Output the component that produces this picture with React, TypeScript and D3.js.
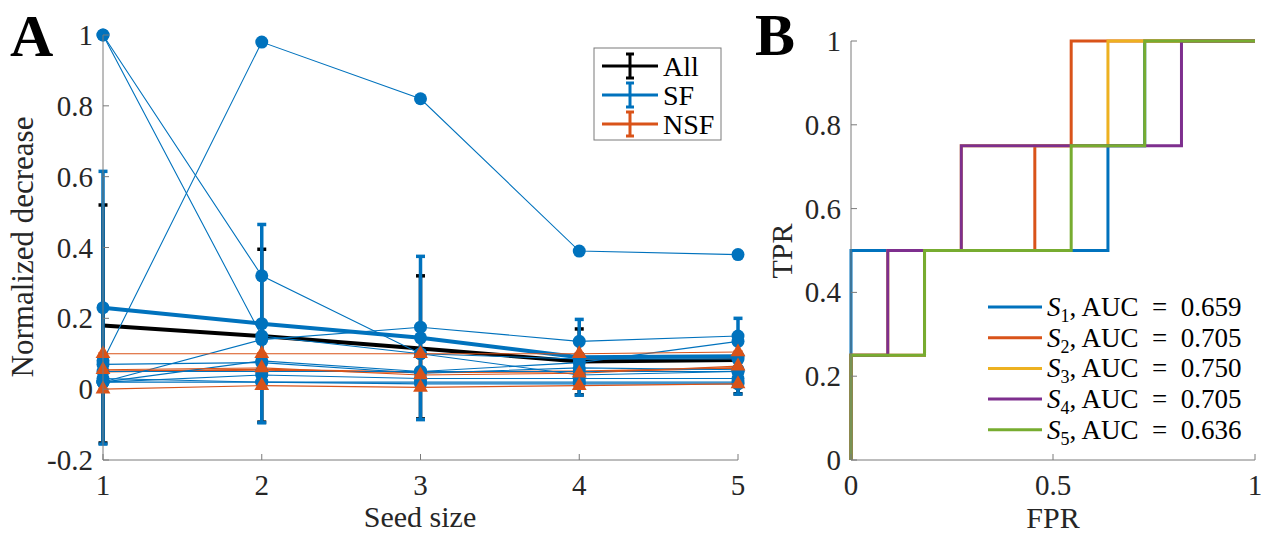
import * as d3 from 'd3'

const SEED_SIZES = [1, 2, 3, 4, 5]

// individual SF seeds (thin blue lines, circle markers)
const SF_SERIES = [
  [0.08, 0.98, 0.82, 0.39, 0.38],
  [1.0, 0.32, 0.1, 0.085, 0.085],
  [1.0, 0.15, 0.1, 0.04, 0.05],
  [0.02, 0.14, 0.175, 0.135, 0.15],
  [0.02, 0.08, 0.05, 0.075, 0.135],
  [0.05, 0.05, 0.05, 0.05, 0.05],
  [0.03, 0.02, 0.02, 0.02, 0.02],
  [0.02, 0.04, 0.03, 0.03, 0.03],
  [0.07, 0.075, 0.045, 0.06, 0.055],
  [0.02, 0.02, 0.015, 0.015, 0.015],
]

// individual NSF seeds (thin orange lines, triangle markers)
const NSF_SERIES = [
  [0.1, 0.1, 0.1, 0.1, 0.105],
  [0.055, 0.06, 0.04, 0.045, 0.065],
  [0.0, 0.01, 0.005, 0.01, 0.015],
]

// means with error-bar ends (lower, upper)
const ALL_MEAN = [0.18, 0.15, 0.115, 0.078, 0.082]
const ALL_LOW = [-0.152, -0.093, -0.084, -0.016, -0.013]
const ALL_HIGH = [0.52, 0.395, 0.32, 0.17, 0.15]
const SF_MEAN = [0.23, 0.185, 0.145, 0.09, 0.093]
const SF_LOW = [-0.155, -0.095, -0.086, -0.017, -0.014]
const SF_HIGH = [0.615, 0.465, 0.375, 0.197, 0.2]
const NSF_MEAN = [0.05, 0.055, 0.048, 0.05, 0.06]
const NSF_LOW = [0.0, 0.01, 0.005, 0.01, 0.015]
const NSF_HIGH = [0.1, 0.1, 0.1, 0.1, 0.105]

const A_Y_TICKS = [-0.2, 0, 0.2, 0.4, 0.6, 0.8, 1]
const B_Y_TICKS = [0, 0.2, 0.4, 0.6, 0.8, 1]
const B_X_TICKS = [0, 0.5, 1]

// ROC curves, [FPR, TPR] vertices
const ROC_S1 = [[0, 0], [0, 0.5], [0.636, 0.5], [0.636, 0.75], [0.727, 0.75], [0.727, 1], [1, 1]]
const ROC_S2 = [[0, 0], [0, 0.25], [0.182, 0.25], [0.182, 0.5], [0.455, 0.5], [0.455, 0.75], [0.545, 0.75], [0.545, 1], [1, 1]]
const ROC_S3 = [[0, 0], [0, 0.25], [0.091, 0.25], [0.091, 0.5], [0.273, 0.5], [0.273, 0.75], [0.636, 0.75], [0.636, 1], [1, 1]]
const ROC_S4 = [[0, 0], [0, 0.25], [0.091, 0.25], [0.091, 0.5], [0.273, 0.5], [0.273, 0.75], [0.818, 0.75], [0.818, 1], [1, 1]]
const ROC_S5 = [[0, 0], [0, 0.25], [0.182, 0.25], [0.182, 0.5], [0.545, 0.5], [0.545, 0.75], [0.727, 0.75], [0.727, 1], [1, 1]]
const ROC_CURVES = [ROC_S1, ROC_S2, ROC_S3, ROC_S4, ROC_S5]
const ROC_NAMES = ['1', '2', '3', '4', '5']
const ROC_AUC = ['0.659', '0.705', '0.750', '0.705', '0.636']

const BLUE = '#0072BD'
const ORANGE = '#D95319'
const ROC_COLORS = ['#0072BD', '#D95319', '#EDB120', '#7E2F8E', '#77AC30']

const FONT = "'Liberation Serif', 'DejaVu Serif', serif"
const AXIS = '#7a7a7a'
const TXT = '#262626'

function ErrorBars({ x, y, mean, low, high, color, width }: any) {
  const line = d3.line<number>().x((_, i) => x(SEED_SIZES[i])).y(d => y(d))
  return (
    <g>
      {mean.map((_m: number, i: number) => {
        const cx = x(SEED_SIZES[i])
        const lo = y(low[i])
        const hi = y(high[i])
        return (
          <g key={i} stroke={color} strokeWidth={3.5}>
            <line x1={cx} x2={cx} y1={lo} y2={hi} />
            <line x1={cx - 4.5} x2={cx + 4.5} y1={lo} y2={lo} />
            <line x1={cx - 4.5} x2={cx + 4.5} y1={hi} y2={hi} />
          </g>
        )
      })}
      <path d={line(mean) || ''} fill="none" stroke={color} strokeWidth={width} />
    </g>
  )
}

export default function App() {
  // panel A
  const xA = d3.scaleLinear().domain([1, 5]).range([103, 738])
  const yA = d3.scaleLinear().domain([-0.2, 1]).range([460, 35])
  const lineA = d3.line<number>().x((_, i) => xA(SEED_SIZES[i])).y(d => yA(d))
  const tri = d3.symbol().type(d3.symbolTriangle).size(95)

  // panel B
  const xB = d3.scaleLinear().domain([0, 1]).range([851, 1255])
  const yB = d3.scaleLinear().domain([0, 1]).range([460, 41])
  const lineB = d3.line<number[]>().x(d => xB(d[0])).y(d => yB(d[1]))

  return (
    <svg width={1261} height={533} style={{ position: 'absolute', left: 0, top: 0, background: '#fff', fontFamily: FONT }}>
      <rect width={1261} height={533} fill="#fff" />

      {/* ---------- A ---------- */}
      <text x={10} y={56} fontSize={60} fontWeight="bold" fill="#000">A</text>

      <ErrorBars x={xA} y={yA} mean={ALL_MEAN} low={ALL_LOW} high={ALL_HIGH} color="#000" width={4} />
      <ErrorBars x={xA} y={yA} mean={NSF_MEAN} low={NSF_LOW} high={NSF_HIGH} color={ORANGE} width={2} />
      <ErrorBars x={xA} y={yA} mean={SF_MEAN} low={SF_LOW} high={SF_HIGH} color={BLUE} width={4} />
      {SF_MEAN.map((m, i) => (
        <circle key={'sm' + i} cx={xA(SEED_SIZES[i])} cy={yA(m)} r={6.5} fill={BLUE} />
      ))}

      {SF_SERIES.map((s, k) => (
        <g key={'sf' + k}>
          <path d={lineA(s) || ''} fill="none" stroke={BLUE} strokeWidth={1.1} />
          {s.map((v, i) => (
            <circle key={i} cx={xA(SEED_SIZES[i])} cy={yA(v)} r={6.5} fill={BLUE} />
          ))}
        </g>
      ))}
      {NSF_SERIES.map((s, k) => (
        <g key={'nsf' + k}>
          <path d={lineA(s) || ''} fill="none" stroke={ORANGE} strokeWidth={1.1} />
          {s.map((v, i) => (
            <path key={i} d={tri() || ''} transform={`translate(${xA(SEED_SIZES[i])},${yA(v)})`} fill={ORANGE} />
          ))}
        </g>
      ))}

      {/* axes A */}
      <g stroke={AXIS} strokeWidth={1} fill="none">
        <line x1={103} x2={738} y1={460} y2={460} />
        <line x1={103} x2={103} y1={35} y2={460} />
        {SEED_SIZES.map(t => (
          <line key={t} x1={xA(t)} x2={xA(t)} y1={460} y2={454} />
        ))}
        {A_Y_TICKS.map(t => (
          <line key={t} x1={103} x2={109} y1={yA(t)} y2={yA(t)} />
        ))}
      </g>
      <g fill={TXT} fontSize={29}>
        {SEED_SIZES.map(t => (
          <text key={t} x={xA(t)} y={495} textAnchor="middle">{t}</text>
        ))}
        {A_Y_TICKS.map(t => (
          <text key={t} x={93} y={yA(t)} textAnchor="end" dominantBaseline="central">{String(t)}</text>
        ))}
      </g>
      <text x={420} y={527} textAnchor="middle" fontSize={30} fill={TXT}>Seed size</text>
      <text transform="translate(33,247) rotate(-90)" textAnchor="middle" fontSize={31} fill={TXT}>Normalized decrease</text>

      {/* legend A */}
      <rect x={594} y={48} width={127} height={92} fill="#fff" stroke={AXIS} strokeWidth={1} />
      {[['All', '#000'], ['SF', BLUE], ['NSF', ORANGE]].map(([name, c], i) => {
        const ly = 66 + i * 29
        return (
          <g key={name}>
            <line x1={602} x2={658} y1={ly} y2={ly} stroke={c} strokeWidth={3} />
            <g stroke={c} strokeWidth={3}>
              <line x1={630} x2={630} y1={ly - 12} y2={ly + 12} />
              <line x1={626} x2={634} y1={ly - 12} y2={ly - 12} />
              <line x1={626} x2={634} y1={ly + 12} y2={ly + 12} />
            </g>
            <text x={663} y={ly} dominantBaseline="central" fontSize={28} fill="#000">{name}</text>
          </g>
        )
      })}

      {/* ---------- B ---------- */}
      <text x={755} y={55} fontSize={60} fontWeight="bold" fill="#000">B</text>

      {ROC_CURVES.map((c, k) => (
        <path key={k} d={lineB(c) || ''} fill="none" stroke={ROC_COLORS[k]} strokeWidth={3} />
      ))}

      <g stroke={AXIS} strokeWidth={1} fill="none">
        <line x1={851} x2={1255} y1={460} y2={460} />
        <line x1={851} x2={851} y1={41} y2={460} />
        {B_X_TICKS.map(t => (
          <line key={t} x1={xB(t)} x2={xB(t)} y1={460} y2={454} />
        ))}
        {B_Y_TICKS.map(t => (
          <line key={t} x1={851} x2={857} y1={yB(t)} y2={yB(t)} />
        ))}
      </g>
      <g fill={TXT} fontSize={29}>
        {B_X_TICKS.map(t => (
          <text key={t} x={xB(t)} y={495} textAnchor="middle">{String(t)}</text>
        ))}
        {B_Y_TICKS.map(t => (
          <text key={t} x={841} y={yB(t)} textAnchor="end" dominantBaseline="central">{String(t)}</text>
        ))}
      </g>
      <text x={1053} y={528} textAnchor="middle" fontSize={30} fill={TXT}>FPR</text>
      <text transform="translate(792,251) rotate(-90)" textAnchor="middle" fontSize={30} fill={TXT}>TPR</text>

      {/* legend B */}
      {ROC_NAMES.map((n, i) => {
        const ly = 307 + i * 30.7
        return (
          <g key={n}>
            <line x1={988} x2={1042} y1={ly} y2={ly} stroke={ROC_COLORS[i]} strokeWidth={3} />
            <text x={1047} y={ly + 9} fontSize={27} fill="#000" style={{ whiteSpace: 'pre' }}>
              <tspan fontStyle="italic">S</tspan>
              <tspan fontSize={18} dy={6}>{n}</tspan>
              <tspan dy={-6}>{', AUC  =  ' + ROC_AUC[i]}</tspan>
            </text>
          </g>
        )
      })}
    </svg>
  )
}
